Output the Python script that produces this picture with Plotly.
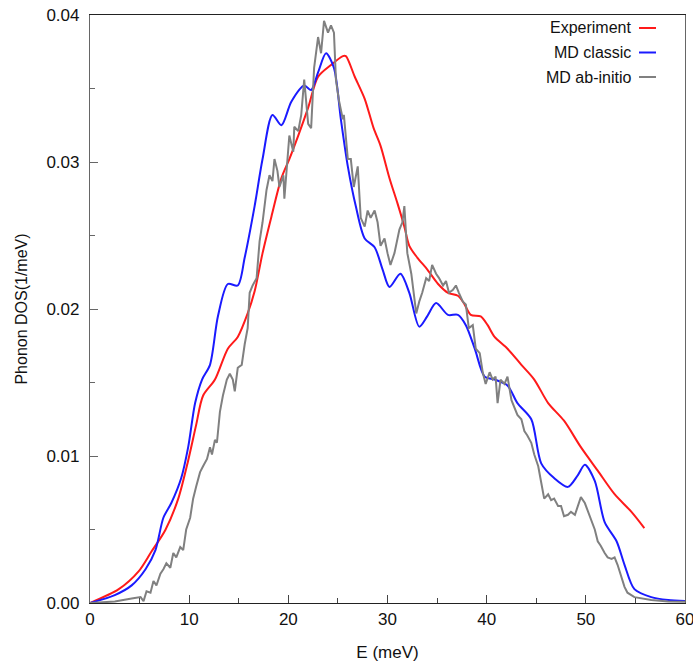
import plotly.graph_objects as go

# Experiment
exp_E = [0, 2.9, 4.9, 6.2, 7.6, 8.9, 9.9, 10.7, 11.4, 12.6, 13.9, 14.9, 15.9, 16.6, 17.4, 18.3,
         19.3, 20.1, 21.0, 22.0, 23.0, 24.3, 25.5, 25.8, 26.7, 27.7, 28.6, 29.3, 30.2, 31.0,
         31.7, 32.2, 33.0, 34.0, 35.1, 36.1, 37.1, 37.7, 38.4, 39.4, 40.1, 40.8, 42.1, 43.5,
         44.8, 46.2, 47.8, 49.5, 51.2, 52.9, 54.6, 55.9]
exp_D = [0, 0.00094, 0.00215, 0.0035, 0.00497, 0.0071, 0.0097, 0.0121, 0.0141, 0.0152, 0.0173,
         0.0181, 0.0197, 0.0212, 0.0238, 0.0263, 0.0289, 0.0302, 0.0318, 0.0337, 0.0358, 0.0366,
         0.0372, 0.0372, 0.0358, 0.0343, 0.0323, 0.0311, 0.0289, 0.0272, 0.0256, 0.0243, 0.0235,
         0.0227, 0.0217, 0.0211, 0.0209, 0.0204, 0.0196, 0.0195, 0.0189, 0.0181, 0.0173, 0.0162,
         0.0152, 0.0136, 0.0124, 0.0106, 0.0090, 0.0074, 0.0062, 0.0051]

# MD classic
cls_E = [0, 2.5, 4.2, 5.6, 6.6, 7.4, 8.2, 9.2, 9.9, 10.6, 11.3, 12.1, 12.9, 13.9, 14.9, 15.6,
         16.6, 17.4, 18.4, 19.3, 20.3, 21.6, 22.3, 23.0, 23.8, 24.6, 25.3, 26.0, 26.8, 27.7,
         28.7, 29.5, 30.2, 31.3, 32.2, 33.2, 34.0, 34.9, 36.1, 37.1, 37.9, 38.8, 39.8, 40.8,
         42.1, 43.1, 44.5, 45.5, 46.8, 48.2, 49.2, 49.9, 50.9, 51.9, 53.1, 53.9, 54.9, 56.6,
         58.3, 60]
cls_D = [0, 0.00054, 0.0012, 0.0023, 0.0036, 0.0058, 0.0068, 0.0085, 0.0106, 0.0136, 0.0152,
         0.0162, 0.0195, 0.0217, 0.0216, 0.0235, 0.0270, 0.0302, 0.0332, 0.0325, 0.0341, 0.0352,
         0.0349, 0.0361, 0.0374, 0.0364, 0.0329, 0.0297, 0.0270, 0.0248, 0.0242, 0.0227, 0.0215,
         0.0224, 0.0211, 0.0188, 0.0195, 0.0204, 0.0196, 0.0196, 0.0189, 0.0173, 0.0154, 0.0152,
         0.0148, 0.0136, 0.0125, 0.0095, 0.0085, 0.0079, 0.0087, 0.0094, 0.0083, 0.0055, 0.0042,
         0.0026, 0.00094, 0.0004, 0.0002, 0.00013]

# MD ab-initio
abi_E = [0, 2.5, 4.2, 5.1, 5.4, 5.7, 6.1, 6.4, 6.7, 7.1, 7.4, 7.7, 8.1, 8.4, 8.7, 9.1, 9.4, 9.7,
         10.1, 10.4, 10.7, 11.1, 11.4, 11.8, 12.1, 12.3, 12.6, 12.8, 13.1, 13.4, 13.8, 14.1,
         14.4, 14.6, 14.9, 15.3, 15.6, 15.9, 16.1, 16.4, 16.8, 17.1, 17.4, 17.8, 18.1, 18.4,
         18.6, 18.9, 19.1, 19.5, 19.6, 19.8, 20.1, 20.5, 20.6, 21.0, 21.3, 21.6, 22.0, 22.3,
         22.6, 23.0, 23.3, 23.6, 24.0, 24.3, 24.6, 24.8, 25.1, 25.5, 25.6, 26.0, 26.3, 26.6,
         27.0, 27.3, 27.7, 28.0, 28.3, 28.7, 29.0, 29.3, 29.7, 30.0, 30.3, 30.7, 31.2, 31.5,
         31.7, 31.9, 32.0, 32.4, 32.7, 32.9, 33.2, 33.5, 33.9, 34.2, 34.5, 34.9, 35.2, 35.6,
         35.9, 36.2, 36.6, 36.9, 37.2, 37.6, 37.9, 38.2, 38.6, 38.9, 39.3, 39.6, 39.9, 40.3,
         40.6, 40.9, 41.1, 41.4, 41.8, 42.1, 42.5, 42.8, 43.1, 43.5, 43.8, 44.1, 44.5, 44.8,
         45.2, 45.5, 45.8, 46.2, 46.5, 46.8, 47.2, 47.5, 47.8, 48.2, 48.5, 48.9, 49.2, 49.5,
         49.9, 50.2, 50.5, 50.9, 51.2, 51.5, 51.9, 52.2, 52.6, 52.9, 53.2, 53.6, 53.9, 54.2,
         54.9, 56.6, 58.3, 60]
abi_D = [0, 0.0001, 0.0003, 0.0004, 0.00013, 0.0008, 0.0007, 0.0015, 0.0012, 0.0020, 0.0023,
         0.0027, 0.0024, 0.0034, 0.0031, 0.0038, 0.0036, 0.0050, 0.0058, 0.0071, 0.0079, 0.0089,
         0.0093, 0.0098, 0.0106, 0.0101, 0.0111, 0.0109, 0.0130, 0.0141, 0.0152, 0.0156, 0.0152,
         0.0144, 0.0160, 0.0162, 0.0176, 0.0187, 0.0211, 0.0216, 0.0221, 0.0246, 0.0259, 0.0281,
         0.0291, 0.0287, 0.0302, 0.0294, 0.0283, 0.0291, 0.0275, 0.0294, 0.0318, 0.0307, 0.0324,
         0.0321, 0.0332, 0.0356, 0.0326, 0.0323, 0.0364, 0.0385, 0.0374, 0.0396, 0.0388, 0.0393,
         0.0388, 0.0356, 0.0342, 0.0329, 0.0332, 0.0302, 0.0302, 0.0283, 0.0297, 0.0262, 0.0256,
         0.0267, 0.0262, 0.0267, 0.0259, 0.0243, 0.0248, 0.0238, 0.0230, 0.0238, 0.0254, 0.0259,
         0.0270, 0.0248, 0.0238, 0.0224, 0.0205, 0.0197, 0.0205, 0.0211, 0.0221, 0.0219, 0.0230,
         0.0224, 0.0221, 0.0216, 0.0219, 0.0211, 0.0213, 0.0216, 0.0211, 0.0205, 0.0203, 0.0187,
         0.0189, 0.0173, 0.0170, 0.0157, 0.0149, 0.0157, 0.0152, 0.0154, 0.0136, 0.0152, 0.0149,
         0.0154, 0.0138, 0.0133, 0.0128, 0.0125, 0.0117, 0.0114, 0.0109, 0.0101, 0.0093, 0.0082,
         0.0071, 0.0074, 0.0070, 0.0071, 0.0066, 0.0066, 0.0059, 0.0060, 0.0062, 0.0060, 0.0066,
         0.0072, 0.0068, 0.0063, 0.0058, 0.0050, 0.0042, 0.0039, 0.0034, 0.0031, 0.0030, 0.0031,
         0.0026, 0.0017, 0.0011, 0.0007, 0.0004, 0.0002, 0.0001, 0.00008]

series_names = ["Experiment", "MD classic", "MD ab-initio"]
series_colors = ["#ff1a1a", "#1a1aff", "#808080"]

x_ticks = [0, 10, 20, 30, 40, 50, 60]
y_ticks = [0.00, 0.01, 0.02, 0.03, 0.04]

FONT = "Liberation Sans, Arial, sans-serif"

fig = go.Figure()
fig.add_trace(go.Scatter(x=exp_E, y=exp_D, mode="lines", name=series_names[0],
                         line=dict(color=series_colors[0], width=2, shape="spline", smoothing=0.8)))
fig.add_trace(go.Scatter(x=cls_E, y=cls_D, mode="lines", name=series_names[1],
                         line=dict(color=series_colors[1], width=2, shape="spline", smoothing=0.8)))
fig.add_trace(go.Scatter(x=abi_E, y=abi_D, mode="lines", name=series_names[2],
                         line=dict(color=series_colors[2], width=2)))

# plot area size in pixels (for placing the hand-drawn legend)
PW, PH = 595, 588

# legend drawn with text on the left and the line sample on the right
for i, (nm, col) in enumerate(zip(series_names, series_colors)):
    yp = 1 - (13 + 24.5 * i) / PH
    fig.add_annotation(xref="paper", yref="paper", x=(633 - 90) / PW, y=yp,
                       text=nm, showarrow=False, xanchor="right", yanchor="middle",
                       font=dict(family=FONT, size=16, color="#111111"))
    fig.add_shape(type="line", xref="paper", yref="paper",
                  x0=(639 - 90) / PW, x1=(656 - 90) / PW, y0=yp, y1=yp,
                  line=dict(color=col, width=2))

axis_common = dict(
    showline=True, linewidth=1.2, mirror=True, automargin=False,
    ticks="inside", ticklen=8, tickwidth=1,
    showgrid=False, zeroline=False,
    tickfont=dict(family=FONT, size=17, color="#111111"),
)

fig.update_xaxes(range=[0, 60], tickvals=x_ticks, ticktext=[str(v) for v in x_ticks],
                 linecolor="#222222", tickcolor="#444444", ticklabeloverflow="allow",
                 minor=dict(dtick=5, ticks="inside", ticklen=5, tickcolor="#444444"),
                 title=dict(text="E (meV)", font=dict(family=FONT, size=17, color="#111111"),
                            standoff=18),
                 **axis_common)
fig.update_yaxes(range=[0, 0.04], tickvals=y_ticks, ticktext=["%.2f" % v for v in y_ticks],
                 linecolor="#666666", tickcolor="#666666", ticklabelstandoff=6,
                 ticklabeloverflow="allow",
                 minor=dict(dtick=0.005, ticks="inside", ticklen=5, tickcolor="#666666"),
                 title=dict(text="Phonon DOS(1/meV)", font=dict(family=FONT, size=16, color="#111111"),
                            standoff=14),
                 **axis_common)

fig.update_layout(
    width=693, height=665,
    margin=dict(l=90, r=8, t=15, b=62),
    plot_bgcolor="white", paper_bgcolor="white",
    showlegend=False,
)

# remove the default page margin so the figure fills the window exactly
fig.write_html("out.html",
               config={"displayModeBar": False},
               post_script="document.body.style.margin='0';document.body.style.overflow='hidden';")
